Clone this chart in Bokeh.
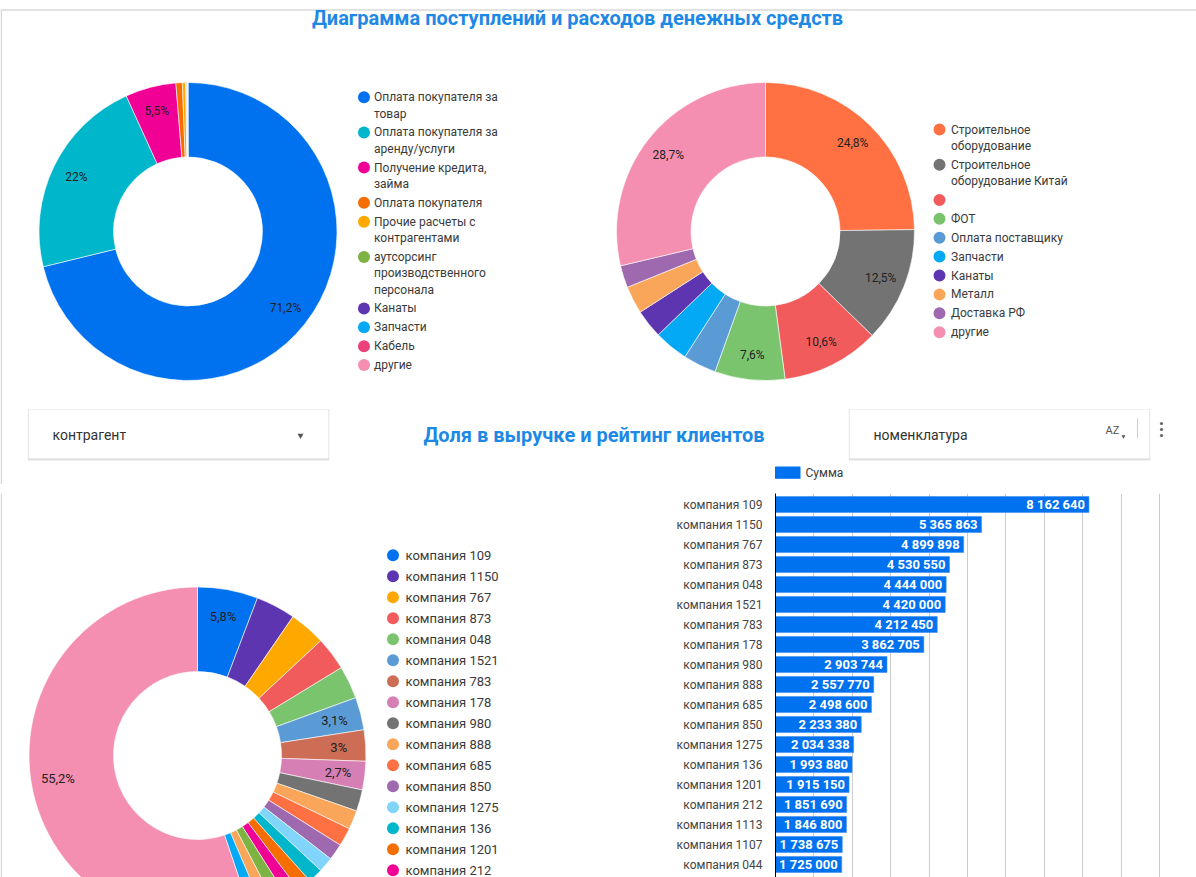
import math
from bokeh.plotting import figure
from bokeh.layouts import column, row
from bokeh.models import Range1d, FixedTicker, SingleIntervalTicker
from bokeh.core.properties import value
from bokeh.embed import file_html
from bokeh.resources import INLINE

FONT = "Roboto"

# ---------------- texts ----------------
title_top = "Диаграмма поступлений и расходов денежных средств"
title_mid = "Доля в выручке и рейтинг клиентов"
filter_left = "контрагент"
filter_right = "номенклатура"
bar_series_name = "Сумма"
others_label = "другие"

# ---------------- donut 1: receipts (percent) ----------------
in_labels = ["Оплата покупателя за\nтовар", "Оплата покупателя за\nаренду/услуги",
             "Получение кредита,\nзайма", "Оплата покупателя",
             "Прочие расчеты с\nконтрагентами", "аутсорсинг\nпроизводственного\nперсонала",
             "Канаты", "Запчасти", "Кабель", "другие"]
in_values = [71.2, 22.0, 5.5, 0.7, 0.35, 0.08, 0.06, 0.04, 0.04, 0.03]
in_colors = ["#0072f0", "#00b6cb", "#f10096", "#f66d00", "#ffa800",
             "#7cb342", "#5e35b1", "#03a9f4", "#ec407a", "#f48fb1"]

# ---------------- donut 2: payments (percent) ----------------
out_labels = ["Строительное\nоборудование", "Строительное\nоборудование Китай", "",
              "ФОТ", "Оплата поставщику", "Запчасти", "Канаты", "Металл",
              "Доставка РФ", "другие"]
out_values = [24.8, 12.5, 10.6, 7.6, 3.6, 3.7, 3.1, 3.0, 2.4, 28.7]
out_colors = ["#ff7043", "#737373", "#f15b5b", "#7bc46e", "#5b9bd5",
              "#03a9f4", "#5e35b1", "#faa65a", "#9e69af", "#f48fb1"]

# ---------------- clients (revenue) ----------------
clients = ["компания 109", "компания 1150", "компания 767", "компания 873",
           "компания 048", "компания 1521", "компания 783", "компания 178",
           "компания 980", "компания 888", "компания 685", "компания 850",
           "компания 1275", "компания 136", "компания 1201", "компания 212",
           "компания 1113", "компания 1107", "компания 044"]
client_sums = [8162640, 5365863, 4899898, 4530550, 4444000, 4420000, 4212450,
               3862705, 2903744, 2557770, 2498600, 2233380, 2034338, 1993880,
               1915150, 1851690, 1846800, 1738675, 1725000]
client_colors = ["#0072f0", "#5e35b1", "#ffa800", "#f15b5b", "#7bc46e",
                 "#5b9bd5", "#cd6d55", "#d67fb4", "#737373", "#faa65a",
                 "#ff7043", "#9e69af", "#81d4fa", "#00b6cb", "#f66d00",
                 "#f10096", "#7cb342", "#faa65a", "#03a9f4"]
other_clients_sum = 77870000
other_clients_color = "#f48fb1"
labeled_clients = {"компания 109", "компания 1521", "компания 783", "компания 178", "другие"}

TXT = "#3a3a3a"
TITLE_C = "#1e88e5"
BORDER_C = "#d8d8d8"


def fmt_pct(v):
    s = f"{v:.1f}"
    if s.endswith(".0"):
        s = s[:-2]
    return s.replace(".", ",") + "%"


def base_fig(w, h, x0, x1, y0, y1, top_border=0):
    p = figure(width=w, height=h, x_range=Range1d(x0, x1), y_range=Range1d(-y1, -y0),
               output_backend="svg", toolbar_location=None, min_border=0,
               min_border_top=top_border,
               x_axis_location=None, y_axis_location=None)
    p.grid.visible = False
    p.outline_line_color = None
    p.background_fill_color = "white"
    p.border_fill_color = "white"
    return p


def donut(p, cx, cy, r_out, r_in, vals, colors, show, r_lab, fsize):
    total = float(sum(vals))
    cum = 0.0
    starts, ends, lx, ly, lt = [], [], [], [], []
    for v, s in zip(vals, show):
        f = v / total
        starts.append(math.pi / 2 - 2 * math.pi * (cum + f))
        ends.append(math.pi / 2 - 2 * math.pi * cum)
        mid = 2 * math.pi * (cum + f / 2)
        if s:
            lx.append(cx + r_lab * math.sin(mid))
            ly.append(-cy + r_lab * math.cos(mid))
            lt.append(fmt_pct(f * 100))
        cum += f
    p.annular_wedge(x=cx, y=-cy, inner_radius=r_in, outer_radius=r_out,
                    start_angle=starts, end_angle=ends, fill_color=colors,
                    line_color="white", line_width=0.6)
    p.text(x=lx, y=ly, text=lt, text_align="center", text_baseline="middle",
           text_font=value(FONT), text_font_size=f"{fsize}px", text_color="#222222")


def legend(p, xd, xt, y0, labels, colors, fsize, line_h, gap, dot=12, y_max=1e9):
    dx, dy, dc, tx, ty, tt = [], [], [], [], [], []
    y = y0
    for lab, c in zip(labels, colors):
        lines = lab.split("\n")
        if y + (len(lines) - 1) * line_h > y_max:
            break  # entry lies beyond the visible page
        dx.append(xd)
        dy.append(-y)
        dc.append(c)
        for k, ln in enumerate(lines):
            tx.append(xt)
            ty.append(-(y + k * line_h))
            tt.append(ln)
        y += len(lines) * line_h + gap
    p.scatter(x=dx, y=dy, size=dot, fill_color=dc, line_color=None, marker="circle")
    p.text(x=tx, y=ty, text=tt, text_align="left", text_baseline="middle",
           text_font=value(FONT), text_font_size=f"{fsize}px", text_color=TXT)


def filter_box(p, x0, x1, y0, y1):
    p.quad(left=x0 - 1, right=x1 + 1, top=-(y0 - 0.5), bottom=-(y1 + 2.5),
           fill_color="#000000", fill_alpha=0.06, line_color=None)
    p.quad(left=x0 - 0.5, right=x1 + 0.5, top=-y0, bottom=-(y1 + 1.2),
           fill_color="#000000", fill_alpha=0.10, line_color=None)
    p.quad(left=x0, right=x1, top=-y0, bottom=-y1, fill_color="white", line_color=None)


# ================= main (top) figure: y 0..484 =================
main = base_fig(1196, 484, 0, 1196, 0, 484)
main.line(x=[0, 1196], y=[-9.5, -9.5], line_color=BORDER_C, line_width=1.5)
main.line(x=[0.8, 0.8], y=[-9.5, -484], line_color=BORDER_C, line_width=1.5)
main.text(x=[577], y=[-17.5], text=[title_top], text_align="center", text_baseline="middle",
          text_font=value(FONT), text_font_size="20px", text_font_style="bold",
          text_color=TITLE_C)

donut(main, 187.5, 231, 149, 74.5, in_values, in_colors,
      [v >= 5 for v in in_values], 124, 12)
legend(main, 363.5, 373.5, 96.7, in_labels, in_colors, 12, 16.3, 2.6)

donut(main, 765, 231, 149, 74.5, out_values, out_colors,
      [v >= 5 for v in out_values], 124, 12)
legend(main, 939, 950.5, 129, out_labels, out_colors, 12, 16.3, 2.6)

# filters row
filter_box(main, 28, 328, 409, 458)
main.text(x=[52], y=[-434], text=[filter_left], text_align="left", text_baseline="middle",
          text_font=value(FONT), text_font_size="14px", text_color="#333333")
main.scatter(x=[300], y=[-435], marker="inverted_triangle", size=6,
             fill_color="#555555", line_color=None)

main.text(x=[593.5], y=[-434], text=[title_mid], text_align="center", text_baseline="middle",
          text_font=value(FONT), text_font_size="20px", text_font_style="bold",
          text_color=TITLE_C)

filter_box(main, 849, 1149, 409, 458)
main.text(x=[873], y=[-434], text=[filter_right], text_align="left", text_baseline="middle",
          text_font=value(FONT), text_font_size="14px", text_color="#333333")
main.text(x=[1112], y=[-430], text=["AZ"], text_align="center", text_baseline="middle",
          text_font=value(FONT), text_font_size="11px", text_color="#555555")
main.scatter(x=[1123], y=[-436], marker="inverted_triangle", size=4,
             fill_color="#555555", line_color=None)
main.line(x=[1137, 1137], y=[-418, -438], line_color="#cccccc", line_width=1)
main.scatter(x=[1161, 1161, 1161], y=[-423, -429, -435], marker="circle", size=3.2,
             fill_color="#666666", line_color=None)

# bar legend
main.quad(left=[774.5], right=[800], top=[-466], bottom=[-478.3], fill_color="#0072f0",
          line_color=None)
main.text(x=[805], y=[-472.5], text=[bar_series_name], text_align="left",
          text_baseline="middle", text_font=value(FONT), text_font_size="12px",
          text_color=TXT)

# ================= bottom-left: client donut (frame 493..877, aligned with bars) ======
dfig = base_fig(660, 393, 0, 660, 493, 877, top_border=9)
dfig.line(x=[0.8, 0.8], y=[-493, -877], line_color=BORDER_C, line_width=1.5)
d_vals = client_sums + [other_clients_sum]
d_cols = client_colors + [other_clients_color]
d_names = clients + [others_label]
donut(dfig, 197, 755, 168.5, 84, d_vals, d_cols,
      [n in labeled_clients for n in d_names], 141.5, 13)
legend(dfig, 392.5, 405, 554.8, d_names, d_cols, 13, 21, 0, y_max=870.5)

# ================= bottom-right: bar chart =================
n = len(clients)
idx = list(range(n))
frame_w = 536 - 115
frame_h = 393 - 9
bfig = figure(width=536, height=393, x_range=Range1d(0, frame_w / 38.4 * 1e6),
              y_range=Range1d(-0.55 + frame_h / 20.0, -0.55), output_backend="svg",
              toolbar_location=None, x_axis_location=None, min_border_left=115,
              min_border_top=9, min_border_right=0, min_border_bottom=0)
bfig.outline_line_color = None
bfig.ygrid.visible = False
bfig.xgrid.ticker = SingleIntervalTicker(interval=1_000_000, num_minor_ticks=0)
bfig.xgrid.grid_line_color = "#cccccc"
bfig.xgrid.grid_line_width = 1

bfig.hbar(y=idx, left=0, right=client_sums, height=0.8, fill_color="#0072f0",
          line_color="#3f8ff2", line_width=0.6)
bfig.text(x=client_sums, y=idx, text=[f"{v:,}".replace(",", " ") for v in client_sums],
          x_offset=-4, text_align="right", text_baseline="middle",
          text_font=value(FONT), text_font_size="13px", text_font_style="bold",
          text_color="white")

ya = bfig.yaxis[0]
ya.ticker = FixedTicker(ticks=idx)
ya.major_label_overrides = {i: c for i, c in enumerate(clients)}
ya.major_label_text_font = FONT
ya.major_label_text_font_size = "12px"
ya.major_label_text_color = "#444444"
ya.major_label_standoff = 13
ya.major_tick_out = 0
ya.major_tick_in = 0
ya.minor_tick_out = 0
ya.minor_tick_in = 0
ya.axis_line_color = "black"
ya.axis_line_width = 1

layout = column(main, row(dfig, bfig))
open("out.html", "w").write(file_html(layout, INLINE))
